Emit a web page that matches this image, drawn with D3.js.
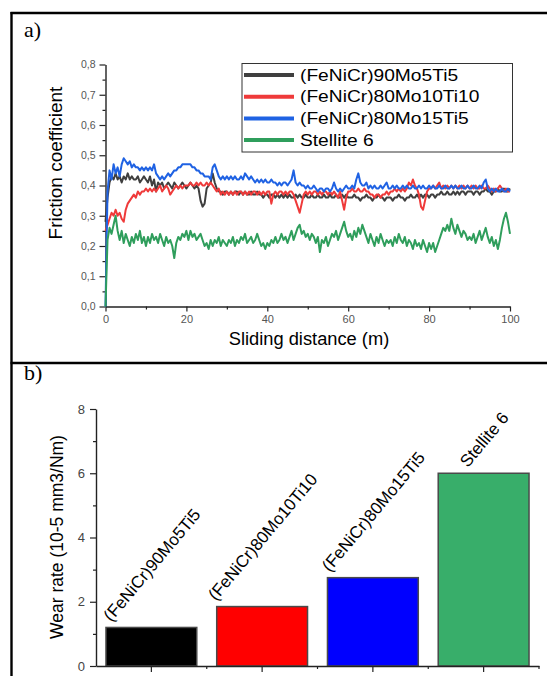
<!DOCTYPE html>
<html>
<head>
<meta charset="utf-8">
<script src="https://cdn.jsdelivr.net/npm/d3@7"></script>
<style>
  html, body { margin: 0; padding: 0; background: #ffffff; }
  svg { display: block; }
</style>
</head>
<body>
<svg id="fig" width="547" height="676"></svg>
<script>
// ---------- friction coefficient readings, one every 0.5 m of sliding ----------
const sampleStep = 0.5;

const frictionMo5Ti5 = [
  0.28, 0.36, 0.41, 0.43, 0.42, 0.44, 0.42, 0.43, 0.41, 0.43, 0.42, 0.44, 0.42, 0.43, 0.42, 0.42, 0.43, 0.41, 0.42, 0.43, 0.42,
  0.41, 0.43, 0.40, 0.42, 0.38, 0.41, 0.40, 0.41, 0.39, 0.40, 0.41, 0.40, 0.39, 0.41, 0.40, 0.39, 0.40, 0.41, 0.40, 0.39,
  0.40, 0.41, 0.40, 0.39, 0.40, 0.39, 0.35, 0.33, 0.34, 0.39, 0.40, 0.41, 0.44, 0.41, 0.39, 0.38, 0.38, 0.37, 0.38, 0.38,
  0.37, 0.38, 0.37, 0.38, 0.38, 0.37, 0.38, 0.37, 0.38, 0.37, 0.37, 0.38, 0.37, 0.37, 0.38, 0.37, 0.37, 0.36, 0.37, 0.37,
  0.36, 0.37, 0.37, 0.36, 0.37, 0.36, 0.37, 0.36, 0.37, 0.36, 0.37, 0.36, 0.36, 0.37, 0.36, 0.37, 0.36, 0.36, 0.37, 0.36,
  0.36, 0.37, 0.36, 0.36, 0.37, 0.36, 0.36, 0.37, 0.36, 0.36, 0.37, 0.36, 0.36, 0.37, 0.36, 0.36, 0.37, 0.36, 0.37, 0.36,
  0.36, 0.36, 0.37, 0.36, 0.36, 0.35, 0.36, 0.36, 0.37, 0.36, 0.36, 0.35, 0.36, 0.36, 0.37, 0.36, 0.36, 0.35, 0.36, 0.36,
  0.36, 0.35, 0.36, 0.36, 0.37, 0.36, 0.36, 0.35, 0.36, 0.36, 0.37, 0.36, 0.36, 0.37, 0.36, 0.37, 0.36, 0.37, 0.37, 0.36,
  0.37, 0.37, 0.36, 0.37, 0.37, 0.38, 0.37, 0.37, 0.38, 0.37, 0.37, 0.38, 0.37, 0.38, 0.37, 0.38, 0.38, 0.37, 0.38, 0.38,
  0.38, 0.37, 0.38, 0.38, 0.37, 0.38, 0.38, 0.39, 0.38, 0.38, 0.37, 0.38, 0.38, 0.39, 0.38, 0.38, 0.39, 0.38, 0.38, 0.39
];

const frictionMo10Ti10 = [
  0.25, 0.27, 0.29, 0.31, 0.30, 0.32, 0.30, 0.31, 0.29, 0.28, 0.32, 0.34, 0.35, 0.36, 0.37, 0.36, 0.38, 0.37, 0.38, 0.38, 0.39,
  0.38, 0.39, 0.38, 0.39, 0.38, 0.39, 0.40, 0.38, 0.39, 0.40, 0.39, 0.37, 0.38, 0.39, 0.40, 0.39, 0.40, 0.39, 0.40, 0.40,
  0.40, 0.41, 0.40, 0.40, 0.41, 0.40, 0.41, 0.40, 0.40, 0.41, 0.40, 0.41, 0.40, 0.39, 0.38, 0.39, 0.37, 0.38, 0.37, 0.38,
  0.37, 0.38, 0.37, 0.38, 0.37, 0.38, 0.38, 0.37, 0.38, 0.37, 0.38, 0.37, 0.38, 0.38, 0.37, 0.38, 0.37, 0.38, 0.37, 0.38,
  0.38, 0.34, 0.37, 0.38, 0.37, 0.38, 0.38, 0.37, 0.38, 0.37, 0.38, 0.38, 0.37, 0.35, 0.33, 0.31, 0.34, 0.37, 0.38, 0.37,
  0.38, 0.37, 0.38, 0.38, 0.37, 0.38, 0.37, 0.38, 0.38, 0.37, 0.38, 0.37, 0.38, 0.37, 0.36, 0.38, 0.35, 0.32, 0.36, 0.38,
  0.38, 0.39, 0.38, 0.38, 0.39, 0.38, 0.38, 0.39, 0.38, 0.38, 0.37, 0.37, 0.36, 0.37, 0.37, 0.36, 0.37, 0.37, 0.38, 0.37,
  0.38, 0.38, 0.39, 0.38, 0.39, 0.38, 0.39, 0.38, 0.39, 0.41, 0.40, 0.42, 0.40, 0.39, 0.37, 0.33, 0.32, 0.35, 0.38, 0.39,
  0.39, 0.40, 0.39, 0.40, 0.41, 0.39, 0.40, 0.39, 0.40, 0.39, 0.40, 0.39, 0.40, 0.39, 0.40, 0.39, 0.40, 0.39, 0.40, 0.39,
  0.40, 0.39, 0.40, 0.39, 0.39, 0.40, 0.39, 0.39, 0.40, 0.39, 0.38, 0.39, 0.38, 0.39, 0.40, 0.39, 0.38, 0.39, 0.38, 0.38
];

const frictionMo15Ti5 = [
  0.00, 0.38, 0.45, 0.42, 0.47, 0.44, 0.46, 0.43, 0.47, 0.49, 0.48, 0.47, 0.48, 0.46, 0.47, 0.46, 0.46, 0.45, 0.46, 0.45, 0.46,
  0.45, 0.46, 0.45, 0.47, 0.44, 0.43, 0.42, 0.43, 0.42, 0.43, 0.44, 0.43, 0.44, 0.45, 0.45, 0.46, 0.46, 0.47, 0.47, 0.47,
  0.47, 0.47, 0.46, 0.46, 0.45, 0.45, 0.44, 0.44, 0.43, 0.43, 0.43, 0.42, 0.46, 0.47, 0.45, 0.43, 0.42, 0.43, 0.42, 0.43,
  0.42, 0.43, 0.42, 0.43, 0.42, 0.42, 0.43, 0.42, 0.44, 0.43, 0.42, 0.43, 0.42, 0.41, 0.42, 0.41, 0.42, 0.41, 0.42, 0.41,
  0.41, 0.42, 0.41, 0.41, 0.40, 0.41, 0.40, 0.41, 0.41, 0.40, 0.41, 0.42, 0.45, 0.41, 0.40, 0.41, 0.40, 0.40, 0.39, 0.40,
  0.39, 0.39, 0.40, 0.39, 0.38, 0.39, 0.39, 0.38, 0.39, 0.39, 0.38, 0.39, 0.41, 0.39, 0.38, 0.39, 0.38, 0.39, 0.40, 0.39,
  0.39, 0.40, 0.39, 0.42, 0.44, 0.41, 0.40, 0.40, 0.41, 0.39, 0.40, 0.39, 0.40, 0.39, 0.39, 0.40, 0.39, 0.40, 0.41, 0.39,
  0.39, 0.40, 0.39, 0.40, 0.39, 0.39, 0.40, 0.39, 0.40, 0.39, 0.39, 0.40, 0.39, 0.39, 0.40, 0.39, 0.40, 0.39, 0.39, 0.40,
  0.39, 0.40, 0.39, 0.39, 0.40, 0.39, 0.39, 0.40, 0.39, 0.39, 0.40, 0.39, 0.40, 0.39, 0.39, 0.40, 0.39, 0.39, 0.40, 0.39,
  0.39, 0.40, 0.39, 0.39, 0.40, 0.39, 0.41, 0.42, 0.39, 0.38, 0.39, 0.38, 0.39, 0.38, 0.38, 0.39, 0.38, 0.38, 0.39, 0.38
];

const frictionStellite6 = [
  0.00, 0.22, 0.26, 0.24, 0.27, 0.30, 0.25, 0.22, 0.25, 0.21, 0.24, 0.22, 0.20, 0.23, 0.21, 0.24, 0.22, 0.25, 0.21, 0.23, 0.20,
  0.23, 0.21, 0.24, 0.22, 0.23, 0.21, 0.24, 0.22, 0.20, 0.23, 0.21, 0.22, 0.20, 0.16, 0.21, 0.23, 0.22, 0.24, 0.23, 0.25,
  0.22, 0.25, 0.23, 0.24, 0.22, 0.23, 0.24, 0.22, 0.20, 0.21, 0.19, 0.22, 0.20, 0.22, 0.21, 0.23, 0.20, 0.22, 0.21, 0.20,
  0.22, 0.21, 0.23, 0.20, 0.22, 0.21, 0.23, 0.22, 0.24, 0.21, 0.22, 0.23, 0.21, 0.22, 0.24, 0.22, 0.20, 0.21, 0.19, 0.21,
  0.20, 0.22, 0.21, 0.23, 0.21, 0.22, 0.24, 0.22, 0.23, 0.21, 0.23, 0.25, 0.22, 0.24, 0.26, 0.27, 0.24, 0.25, 0.23, 0.24,
  0.22, 0.24, 0.23, 0.21, 0.23, 0.18, 0.22, 0.21, 0.23, 0.20, 0.22, 0.24, 0.23, 0.25, 0.22, 0.24, 0.26, 0.28, 0.25, 0.23,
  0.24, 0.22, 0.25, 0.23, 0.26, 0.24, 0.27, 0.25, 0.23, 0.21, 0.24, 0.22, 0.20, 0.23, 0.21, 0.24, 0.22, 0.20, 0.22, 0.21,
  0.22, 0.20, 0.23, 0.21, 0.24, 0.22, 0.21, 0.23, 0.20, 0.22, 0.21, 0.19, 0.22, 0.20, 0.21, 0.19, 0.22, 0.20, 0.18, 0.21,
  0.19, 0.21, 0.18, 0.20, 0.22, 0.24, 0.26, 0.25, 0.27, 0.25, 0.29, 0.26, 0.24, 0.27, 0.25, 0.23, 0.25, 0.24, 0.22, 0.23,
  0.22, 0.24, 0.21, 0.23, 0.25, 0.22, 0.24, 0.26, 0.23, 0.21, 0.23, 0.20, 0.22, 0.19, 0.22, 0.26, 0.29, 0.31, 0.28, 0.24
];

const alloyNames = ["(FeNiCr)90Mo5Ti5", "(FeNiCr)80Mo10Ti10", "(FeNiCr)80Mo15Ti5", "Stellite 6"];
const frictionSeries = [frictionMo5Ti5, frictionMo10Ti10, frictionMo15Ti5, frictionStellite6];
const lineColors = ["#3f3f3f", "#ef3a3a", "#1f62e3", "#2f9e5c"];

const frictionTicks = [0, 0.1, 0.2, 0.3, 0.4, 0.5, 0.6, 0.7, 0.8];
const frictionMinorTicks = [0.05, 0.15, 0.25, 0.35, 0.45, 0.55, 0.65, 0.75];
const distanceTicks = [0, 20, 40, 60, 80, 100];
const distanceMinorTicks = [10, 30, 50, 70, 90];

// ---------- wear rate (10^-5 mm3/Nm) ----------
const wearRates = [1.2, 1.85, 2.75, 6.0];
const barColors = ["#000000", "#ff0000", "#0000ff", "#38ae6a"];
const wearTicks = [0, 2, 4, 6, 8];
const wearMinorTicks = [1, 3, 5, 7];

// ---------- drawing ----------
const svg = d3.select("#fig");
const SANS = "'Liberation Sans', Arial, sans-serif";
const SERIF = "'Liberation Serif', 'Times New Roman', serif";

svg.append("rect").attr("width", 547).attr("height", 676).attr("fill", "#ffffff");

// text helper with optional rotation and horizontal stretch
function label(g, txt, x, y, opts) {
  const o = Object.assign({ size: 14, sx: 1, rot: 0, anchor: "start", fill: "#000", family: SANS }, opts);
  return g.append("text")
    .attr("transform", `translate(${x},${y}) rotate(${o.rot}) scale(${o.sx},1)`)
    .attr("text-anchor", o.anchor)
    .attr("font-family", o.family)
    .attr("font-size", o.size)
    .attr("fill", o.fill)
    .text(txt);
}

// frame of the two-panel figure
const frame = svg.append("g").attr("stroke", "#000").attr("stroke-width", 2.4).attr("fill", "none");
frame.append("line").attr("x1", 11.5).attr("y1", 12).attr("x2", 11.5).attr("y2", 676);
frame.append("line").attr("x1", 10.5).attr("y1", 13).attr("x2", 547).attr("y2", 13);
frame.append("line").attr("x1", 10.5).attr("y1", 363).attr("x2", 547).attr("y2", 363);

label(svg, "a)", 24, 37, { size: 20, family: SERIF, sx: 1.1 });
label(svg, "b)", 24, 380, { size: 20, family: SERIF, sx: 1.1 });

function styleAxis(g, textSize, textFill) {
  g.select(".domain").attr("stroke", "#222").attr("stroke-width", 1.4);
  g.selectAll(".tick line").attr("stroke", "#222").attr("stroke-width", 1.2);
  g.selectAll(".tick text")
    .attr("font-family", SANS)
    .attr("font-size", textSize)
    .attr("fill", textFill);
}

// ---------- panel a: friction coefficient vs sliding distance ----------
const xA = d3.scaleLinear().domain([0, 100]).range([105.5, 510]);
const yA = d3.scaleLinear().domain([0, 0.8]).range([306.5, 64.5]);
const pa = svg.append("g");

const commaFmt = d => d3.format(".1f")(d).replace(".", ",");

const yAxisA = pa.append("g").attr("transform", `translate(${xA(0)},0)`)
  .call(d3.axisLeft(yA).tickValues(frictionTicks).tickSize(6).tickSizeOuter(0).tickPadding(4).tickFormat(commaFmt));
styleAxis(yAxisA, 10.5, "#555");
pa.append("g").attr("transform", `translate(${xA(0)},0)`)
  .call(d3.axisLeft(yA).tickValues(frictionMinorTicks).tickSize(3).tickFormat(""))
  .call(g => g.select(".domain").remove())
  .selectAll(".tick line").attr("stroke", "#222").attr("stroke-width", 1.2);

const xAxisA = pa.append("g").attr("transform", `translate(0,${yA(0)})`)
  .call(d3.axisBottom(xA).tickValues(distanceTicks).tickSize(5).tickSizeOuter(0).tickPadding(4));
styleAxis(xAxisA, 11, "#555");
pa.append("g").attr("transform", `translate(0,${yA(0)})`)
  .call(d3.axisBottom(xA).tickValues(distanceMinorTicks).tickSize(3).tickFormat(""))
  .call(g => g.select(".domain").remove())
  .selectAll(".tick line").attr("stroke", "#222").attr("stroke-width", 1.2);

const frictionLine = d3.line()
  .x((d, i) => xA(i * sampleStep))
  .y(d => yA(d));

pa.append("g").selectAll("path")
  .data(frictionSeries)
  .join("path")
  .attr("d", frictionLine)
  .attr("fill", "none")
  .attr("stroke", (d, i) => lineColors[i])
  .attr("stroke-width", 2)
  .attr("stroke-linejoin", "round");

label(pa, "Sliding distance (m)", 309, 345, { size: 18.3, anchor: "middle" });
label(pa, "Friction coefficient", 62, 163, { size: 19, anchor: "middle", rot: -90 });

// legend
const legend = pa.append("g");
legend.append("rect").attr("x", 242).attr("y", 63.5).attr("width", 270.5).attr("height", 88.5)
  .attr("fill", "#fff").attr("stroke", "#333").attr("stroke-width", 1);
alloyNames.forEach((name, i) => {
  const cy = 75 + i * 21.7;
  legend.append("line").attr("x1", 244).attr("x2", 294).attr("y1", cy).attr("y2", cy)
    .attr("stroke", lineColors[i]).attr("stroke-width", 4);
  label(legend, name, 300, cy + 5.5, { size: 16, sx: 1.2 });
});

// ---------- panel b: wear rate bars ----------
const xB = d3.scaleBand().domain(alloyNames).range([96, 539]).paddingInner(0.18).paddingOuter(0.09);
const yB = d3.scaleLinear().domain([0, 8]).range([666, 409]);
const pb = svg.append("g");

pb.append("g").selectAll("rect")
  .data(wearRates)
  .join("rect")
  .attr("x", (d, i) => xB(alloyNames[i]))
  .attr("y", d => yB(d))
  .attr("width", xB.bandwidth())
  .attr("height", d => yB(0) - yB(d))
  .attr("fill", (d, i) => barColors[i])
  .attr("stroke", "#4a4a4a")
  .attr("stroke-width", 1.5);

const yAxisB = pb.append("g").attr("transform", `translate(96,0)`)
  .call(d3.axisLeft(yB).tickValues(wearTicks).tickSize(6).tickSizeOuter(0).tickPadding(5));
styleAxis(yAxisB, 13, "#444");
pb.append("g").attr("transform", `translate(96,0)`)
  .call(d3.axisLeft(yB).tickValues(wearMinorTicks).tickSize(3).tickFormat(""))
  .call(g => g.select(".domain").remove())
  .selectAll(".tick line").attr("stroke", "#222").attr("stroke-width", 1.2);

const xAxisB = pb.append("g").attr("transform", `translate(0,${yB(0)})`)
  .call(d3.axisBottom(xB).tickSize(6).tickSizeOuter(0).tickFormat(""));
styleAxis(xAxisB, 12, "#444");
// short ticks on the boundaries between categories
const boundaryTicks = alloyNames.map(n => xB(n) + xB.bandwidth() + xB.step() * xB.paddingInner() / 2);
pb.append("g").selectAll("line")
  .data(boundaryTicks)
  .join("line")
  .attr("x1", d => d).attr("x2", d => d)
  .attr("y1", yB(0)).attr("y2", yB(0) + 3)
  .attr("stroke", "#222").attr("stroke-width", 1.2);

label(pb, "Wear rate (10-5 mm3/Nm)", 63, 537, { size: 17.5, anchor: "middle", rot: -90 });

// rotated name above each bar
const angle = 50;
const rad = angle * Math.PI / 180;
alloyNames.forEach((name, i) => {
  const t = label(pb, name, 0, 0, { size: 17 });
  const len = t.node().getComputedTextLength();
  const cx = xB(name) + xB.bandwidth() / 2 + 5;
  const x0 = cx - (len / 2) * Math.cos(rad);
  const y0 = yB(wearRates[i]) - 5;
  t.attr("transform", `translate(${x0},${y0}) rotate(${-angle})`);
});
</script>
</body>
</html>
